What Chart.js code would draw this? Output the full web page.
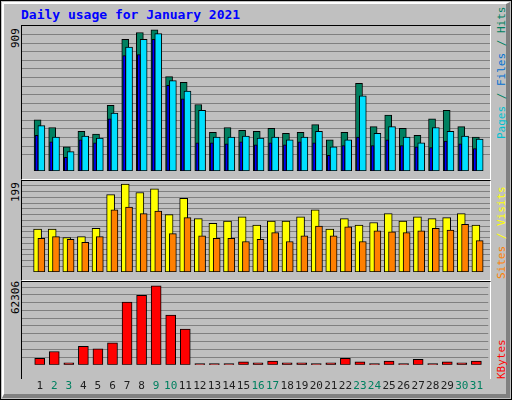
<!DOCTYPE html>
<html><head><meta charset="utf-8">
<script src="https://cdn.jsdelivr.net/npm/chart.js@4"></script>
<style>
body{margin:0;background:#fff}
#frame{position:absolute;left:0;top:0;width:510px;height:398px;border:1px solid #000;background:#c0c0c0;overflow:hidden}
#bev{position:absolute;left:1px;top:1px;width:502px;height:390px;border-top:2px solid #fff;border-left:2px solid #fff;border-right:4px solid #808080;border-bottom:4px solid #808080}
.pl{position:absolute;left:20px;width:470px;border-top:1px solid #000;border-left:1px solid #000;border-right:1px solid #fff;border-bottom:1px solid #fff;box-sizing:border-box}
.t{position:absolute;font-family:"DejaVu Sans Mono",monospace;font-size:11px;white-space:nowrap;line-height:12px}
.rot{transform-origin:0 0;transform:rotate(-90deg)}
</style></head><body>
<div id="frame"><div id="bev"></div>
<div class="t" style="left:20px;top:8px;color:#0000ff;font-weight:bold;font-size:13px">Daily usage for January 2021</div>
<div class="pl" style="top:24px;height:155px"><canvas id="c1"></canvas></div>
<div class="pl" style="top:179px;height:101px"><canvas id="c2"></canvas></div>
<div class="pl" style="top:280px;height:98px;border-bottom:none"></div>
<div style="position:absolute;left:21px;top:281px;width:468px;height:118px"><canvas id="c3"></canvas></div>
<div class="t rot" style="left:9px;top:47px">909</div>
<div class="t rot" style="left:9px;top:201px">199</div>
<div class="t rot" style="left:9px;top:313px">62306</div>
<div class="t rot" style="left:495px;top:138px"><span style="color:#00c0d0">Pages</span><span style="color:#008060"> / </span><span style="color:#0070d0">Files</span><span style="color:#008060"> / Hits</span></div>
<div class="t rot" style="left:495px;top:278px"><span style="color:#ff8000">Sites</span><span style="color:#ffff00"> / Visits</span></div>
<div class="t rot" style="left:495px;top:378px;color:#ff0000">KBytes</div>
</div>
<script>
const days=[1,2,3,4,5,6,7,8,9,10,11,12,13,14,15,16,17,18,19,20,21,22,23,24,25,26,27,28,29,30,31];
const weekend=[2,3,9,10,16,17,23,24,30,31];
const hits=[329,280,156,255,237,422,847,891,909,607,570,428,249,280,261,255,274,243,249,298,200,249,564,286,360,274,230,335,391,286,218];
const files=[292,218,125,224,212,372,798,847,884,582,514,391,218,218,224,212,218,200,218,255,156,200,483,243,286,218,181,280,255,224,206];
const pages=[230,187,88,200,181,335,743,749,847,551,465,181,181,175,187,169,181,169,187,181,101,163,218,163,200,163,156,150,193,175,144];
const visits=[97,97,78,80,99,175,199,180,188,130,167,121,110,115,125,106,115,115,125,141,97,121,106,112,132,115,125,121,123,132,106];
const sites=[76,80,74,67,80,141,147,132,138,87,123,82,76,76,69,74,89,69,82,104,82,102,69,93,91,89,93,99,95,108,71];
const kbytes=[5000,10460,1600,14550,12500,17280,49350,54800,62306,39110,28200,900,900,900,2270,1600,2960,1600,1600,900,1600,5000,2270,900,2960,900,4320,900,2270,1600,2960];

const pts=(arr,off)=>arr.map((v,i)=>({x:days[i]+off,y:v}));
const ds=(arr,off,col,w,order)=>({data:pts(arr,off),backgroundColor:col,borderColor:'#000',borderWidth:1,barThickness:w,borderSkipped:false,grouped:false,order:order});
function yAxis(max,step,first){return{min:0,max:max,afterFit:s=>{s.width=0},ticks:{display:false},border:{display:false},
 afterBuildTicks:s=>{const t=[];for(let v=first;v<max;v+=step)t.push({value:v});s.ticks=t},
 grid:{color:'#808080',lineWidth:1,drawTicks:false}}}
function xAxis(show){return{type:'linear',min:0.5,max:31.5,grid:{display:false},border:{display:false},
 afterBuildTicks:s=>{s.ticks=days.map(d=>({value:d+0.2}))},
 ticks:{display:show,autoSkip:false,maxRotation:0,padding:7,font:{family:'DejaVu Sans Mono',size:11},
  callback:v=>String(Math.round(v-0.2)),color:c=>weekend.includes(Math.round(c.tick.value-0.2))?'#008060':'#202020'}}}
const base={animation:false,responsive:true,maintainAspectRatio:false,layout:{padding:0},plugins:{legend:{display:false},tooltip:{enabled:false}}};
new Chart(c1,{type:'bar',data:{datasets:[ds(hits,0.05,'#008060',7,2),ds(files,0.31,'#00e0ff',7,1),ds(pages,-0.02,'#0000ff',3,0)]},
 options:Object.assign({},base,{scales:{x:xAxis(false),y:yAxis(933,55.3,104.4)}})});
new Chart(c2,{type:'bar',data:{datasets:[ds(visits,0.05,'#ffff00',8,1),ds(sites,0.31,'#ff8000',7,0)]},
 options:Object.assign({},base,{scales:{x:xAxis(false),y:yAxis(206,13,13)}})});
new Chart(c3,{type:'bar',data:{datasets:[ds(kbytes,0.2,'#ff0000',10,0)]},
 options:Object.assign({},base,{scales:{x:xAxis(true),y:yAxis(65230,6115,6115)}})});
</script></body></html>
